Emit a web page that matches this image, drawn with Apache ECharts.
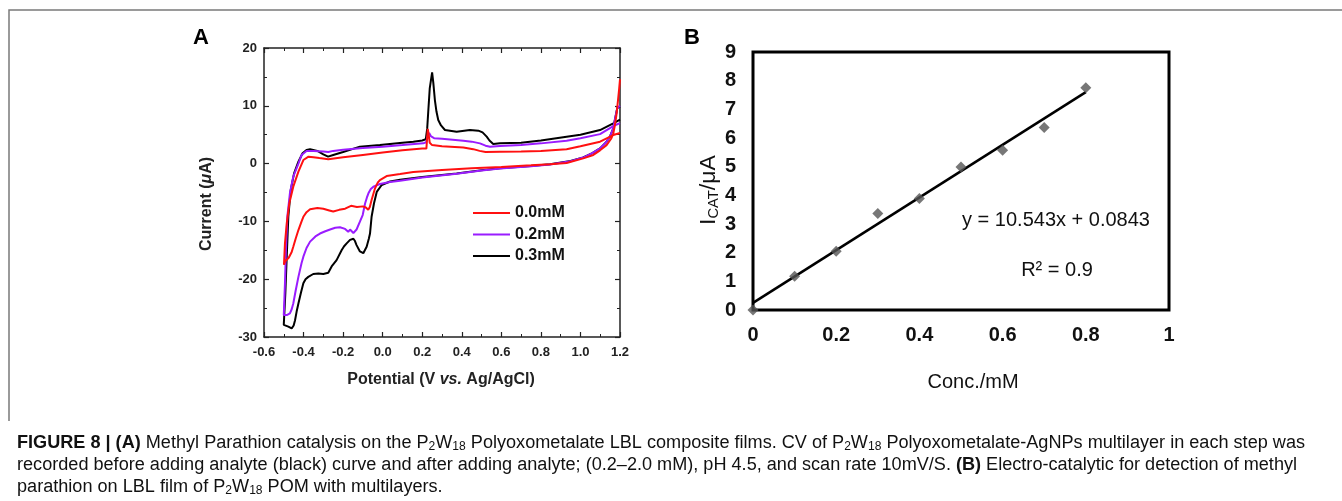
<!DOCTYPE html>
<html>
<head>
<meta charset="utf-8">
<script src="https://cdn.jsdelivr.net/npm/echarts@6/dist/echarts.min.js"></script>
<style>
  html, body { margin: 0; padding: 0; background: #fff; }
  #chart { width: 1342px; height: 501px; }
</style>
</head>
<body>
<div id="chart"></div>
<script>
// panel A: cyclic voltammograms, [potential V, current uA], traced along the loop
const scan00 = [
  [1.2, 5.3], [1.166, 4.94], [1.099, 3.79], [1.0, 3.0], [0.93, 2.5], [0.8, 2.2], [0.7, 2.1], [0.593, 2.06],
  [0.52, 2.0], [0.49, 2.2], [0.458, 2.5], [0.408, 2.8], [0.3, 3.0], [0.25, 3.2], [0.238, 3.6], [0.232, 5.2],
  [0.228, 6.0], [0.224, 4.0], [0.221, 2.6], [0.2, 2.6], [0.1, 2.3], [0.0, 1.9], [-0.1, 1.5], [-0.2, 1.1],
  [-0.275, 0.75], [-0.32, 0.95], [-0.35, 1.1], [-0.375, 1.2], [-0.384, 1.2], [-0.401, 0.62], [-0.426, -1.4],
  [-0.452, -3.99], [-0.472, -6.87], [-0.485, -10.33], [-0.494, -13.79], [-0.499, -17.5],
  [-0.493, -16.9], [-0.485, -16.6], [-0.475, -16.3], [-0.469, -16.0], [-0.46, -15.3], [-0.452, -14.4],
  [-0.44, -13.0], [-0.426, -11.5], [-0.41, -10.0], [-0.401, -9.2], [-0.385, -8.4], [-0.367, -7.9],
  [-0.33, -7.7], [-0.3, -7.8], [-0.27, -8.1], [-0.25, -8.3], [-0.22, -8.0], [-0.19, -7.8], [-0.16, -7.3],
  [-0.13, -7.5], [-0.1, -7.4], [-0.085, -7.6], [-0.073, -8.0], [-0.065, -7.5], [-0.056, -6.3],
  [-0.039, -4.3], [-0.025, -3.3], [-0.014, -2.84], [0.02, -2.15], [0.088, -1.8], [0.155, -1.45],
  [0.3, -1.1], [0.45, -0.8], [0.6, -0.6], [0.75, -0.3], [0.846, -0.1], [0.93, 0.1], [1.014, 0.9],
  [1.065, 1.5], [1.099, 2.3], [1.132, 3.2], [1.155, 4.3], [1.166, 5.2], [1.175, 6.8], [1.183, 8.7],
  [1.19, 11.0], [1.196, 13.0], [1.2, 14.6]
];
const scan02 = [
  [1.2, 7.0], [1.166, 6.5], [1.099, 5.1], [1.0, 4.4], [0.93, 3.96], [0.8, 3.5], [0.7, 3.2], [0.593, 3.04],
  [0.543, 2.9], [0.52, 3.1], [0.492, 3.5], [0.45, 3.8], [0.408, 3.96], [0.3, 4.3], [0.26, 4.4], [0.245, 4.7],
  [0.235, 5.3], [0.228, 4.8], [0.22, 3.7], [0.205, 3.5], [0.1, 3.2], [0.0, 2.93], [-0.1, 2.7], [-0.2, 2.4],
  [-0.25, 2.2], [-0.275, 2.0], [-0.3, 2.1], [-0.35, 2.2], [-0.385, 2.18], [-0.41, 1.49], [-0.426, 0.0],
  [-0.452, -2.26], [-0.469, -5.14], [-0.482, -9.18], [-0.489, -14.95], [-0.494, -20.7], [-0.5, -26.2],
  [-0.485, -26.2], [-0.469, -25.9], [-0.46, -25.2], [-0.452, -24.2], [-0.44, -22.0], [-0.426, -19.6],
  [-0.41, -17.2], [-0.401, -16.1], [-0.385, -14.6], [-0.367, -13.5], [-0.34, -12.6], [-0.317, -12.1],
  [-0.29, -11.7], [-0.266, -11.4], [-0.24, -11.1], [-0.216, -11.0], [-0.19, -11.3], [-0.174, -11.8],
  [-0.165, -11.4], [-0.157, -11.2], [-0.148, -12.0], [-0.14, -11.8], [-0.132, -11.4], [-0.115, -10.05],
  [-0.101, -8.9], [-0.089, -6.9], [-0.08, -5.9], [-0.072, -5.14], [-0.06, -4.4], [-0.047, -3.99],
  [-0.014, -3.53], [0.037, -3.18], [0.088, -2.95], [0.2, -2.4], [0.374, -1.75], [0.5, -1.2], [0.593, -0.85],
  [0.75, -0.45], [0.846, -0.15], [0.95, 0.4], [1.014, 1.05], [1.06, 1.8], [1.099, 2.64], [1.13, 3.7],
  [1.149, 4.66], [1.165, 6.0], [1.174, 7.54], [1.186, 9.6], [1.2, 10.0]
];
const scan03 = [
  [1.2, 7.6], [1.166, 6.96], [1.099, 5.8], [1.0, 5.0], [0.93, 4.66], [0.8, 4.0], [0.7, 3.6], [0.593, 3.5],
  [0.559, 3.39], [0.54, 4.0], [0.526, 4.66], [0.505, 5.4], [0.484, 5.7], [0.441, 5.81], [0.374, 5.52],
  [0.315, 5.81], [0.295, 6.6], [0.281, 7.54], [0.272, 9.0], [0.264, 11.0], [0.256, 14.0], [0.25, 15.8],
  [0.244, 15.6], [0.238, 13.0], [0.231, 9.27], [0.225, 6.0], [0.218, 4.2], [0.2, 4.0], [0.155, 3.79],
  [0.1, 3.6], [-0.014, 3.21], [-0.115, 2.93], [-0.2, 2.0], [-0.25, 1.5], [-0.276, 1.2], [-0.3, 1.6],
  [-0.33, 2.2], [-0.367, 2.47], [-0.385, 2.35], [-0.405, 1.78], [-0.426, 0.33], [-0.448, -1.7],
  [-0.465, -4.6], [-0.477, -9.2], [-0.485, -16.1], [-0.492, -22.4], [-0.5, -27.9],
  [-0.49, -28.0], [-0.477, -28.2], [-0.46, -28.5], [-0.45, -28.0], [-0.443, -27.1], [-0.435, -25.6],
  [-0.426, -24.2], [-0.413, -22.3], [-0.401, -20.7], [-0.39, -20.0], [-0.376, -19.6], [-0.351, -19.1],
  [-0.325, -19.0], [-0.3, -19.1], [-0.275, -18.9], [-0.258, -17.8], [-0.233, -16.7], [-0.207, -14.95],
  [-0.195, -14.3], [-0.182, -13.8], [-0.165, -13.2], [-0.148, -13.0], [-0.14, -13.4], [-0.132, -14.1],
  [-0.115, -15.2], [-0.098, -15.5], [-0.081, -14.4], [-0.07, -13.0], [-0.064, -12.1], [-0.056, -9.2],
  [-0.044, -6.9], [-0.03, -4.9], [-0.005, -3.7], [0.037, -3.1], [0.088, -2.8], [0.2, -2.3], [0.374, -1.7],
  [0.5, -1.15], [0.593, -0.82], [0.75, -0.4], [0.846, -0.13], [0.95, 0.45], [1.014, 1.08], [1.06, 1.8],
  [1.099, 2.64], [1.13, 3.7], [1.149, 4.66], [1.165, 6.0], [1.174, 7.54], [1.186, 9.6], [1.2, 9.9]
];
const scanNames = ['0.0mM', '0.2mM', '0.3mM'];

// panel B: calibration
const conc = [0, 0.1, 0.2, 0.3, 0.4, 0.5, 0.6, 0.7, 0.8];
const icat = [0, 1.18, 2.05, 3.37, 3.89, 4.99, 5.57, 6.37, 7.75];
const fitX = [0, 0.8];
const fitY = [0.25, 7.6];

const ff = 'Liberation Sans';

// caption is set in a condensed face: squeeze Liberation Sans so line 1 fills its width
const capSize = 18, subSize = 12;
const cap1 = [['b', 'FIGURE 8 | (A)'], ['n', ' Methyl Parathion catalysis on the P'], ['s', '2'], ['n', 'W'], ['s', '18'],
  ['n', ' Polyoxometalate LBL composite films. CV of P'], ['s', '2'], ['n', 'W'], ['s', '18'],
  ['n', ' Polyoxometalate-AgNPs multilayer in each step was']];
const cap2 = [['n', 'recorded before adding analyte (black) curve and after adding analyte; (0.2–2.0 mM), pH 4.5, and scan rate 10mV/S. '],
  ['b', '(B)'], ['n', ' Electro-catalytic for detection of methyl']];
const cap3 = [['n', 'parathion on LBL film of P'], ['s', '2'], ['n', 'W'], ['s', '18'], ['n', ' POM with multilayers.']];
const capFonts = {b: 'bold ' + capSize + 'px ' + ff, n: capSize + 'px ' + ff, s: subSize + 'px ' + ff};
const ctx = document.createElement('canvas').getContext('2d');
function segWidth(segs) {
  return segs.reduce((w, s) => { ctx.font = capFonts[s[0]]; return w + ctx.measureText(s[1]).width; }, 0);
}
const capScale = 1288 / segWidth(cap1);
function capText(segs, y) {
  return {
    type: 'text', x: 17, y: y, scaleX: capScale,
    style: {
      text: segs.map(s => '{' + s[0] + '|' + s[1] + '}').join(''),
      verticalAlign: 'middle',
      rich: {
        b: {font: capFonts.b, fill: '#111', lineHeight: 20, verticalAlign: 'middle'},
        n: {font: capFonts.n, fill: '#111', lineHeight: 20, verticalAlign: 'middle'},
        s: {font: capFonts.s, fill: '#111', lineHeight: 12, verticalAlign: 'bottom'}
      }
    }
  };
}

var myChart = echarts.init(document.getElementById('chart'));

function tickAxis(pos, showLabel, extra) {
  return Object.assign({
    position: pos,
    gridIndex: 0,
    axisLine: {show: true, onZero: false, lineStyle: {color: '#222', width: 1.5}},
    axisTick: {show: true, inside: true, length: 5, lineStyle: {color: '#222', width: 1.2}},
    minorTick: {show: true, splitNumber: 2, length: 3, lineStyle: {color: '#222', width: 1}},
    splitLine: {show: false},
    axisLabel: {show: showLabel}
  }, extra);
}

const xA = {type: 'value', min: -0.6, max: 1.2, interval: 0.2};
const yA = {type: 'value', min: -30, max: 20, interval: 10};
const labA = {show: true, fontFamily: ff, fontWeight: 'bold', fontSize: 13, color: '#222'};

myChart.setOption({
  animation: false,
  backgroundColor: '#fff',
  grid: [
    {left: 264, top: 48, width: 356, height: 289},
    {left: 753, top: 52, width: 416, height: 258, show: true, borderColor: '#000', borderWidth: 3}
  ],
  legend: {
    left: 468, top: 200, orient: 'vertical', icon: 'rect',
    itemWidth: 37, itemHeight: 2, itemGap: 5.5,
    data: scanNames,
    textStyle: {fontFamily: ff, fontWeight: 'bold', fontSize: 16, lineHeight: 16, color: '#111'}
  },
  xAxis: [
    tickAxis('bottom', true, Object.assign({}, xA, {axisLabel: Object.assign({margin: 9, formatter: v => v.toFixed(1)}, labA)})),
    tickAxis('top', false, xA),
    {
      type: 'value', gridIndex: 1, min: 0, max: 1, interval: 0.2,
      axisLine: {show: false}, axisTick: {show: false}, splitLine: {show: false},
      axisLabel: {margin: 15, fontFamily: ff, fontWeight: 'bold', fontSize: 20, color: '#111'}
    }
  ],
  yAxis: [
    tickAxis('left', true, Object.assign({}, yA, {axisLabel: Object.assign({margin: 7}, labA)})),
    tickAxis('right', false, yA),
    {
      type: 'value', gridIndex: 1, min: 0, max: 9, interval: 1,
      axisLine: {show: false}, axisTick: {show: false}, splitLine: {show: false},
      axisLabel: {margin: 17, fontFamily: ff, fontWeight: 'bold', fontSize: 20, color: '#111'}
    }
  ],
  series: [
    {name: scanNames[2], type: 'line', xAxisIndex: 0, yAxisIndex: 0, data: scan03, symbol: 'none', lineStyle: {color: '#000', width: 2}, itemStyle: {color: '#000'}},
    {name: scanNames[1], type: 'line', xAxisIndex: 0, yAxisIndex: 0, data: scan02, symbol: 'none', lineStyle: {color: '#9a1cff', width: 2}, itemStyle: {color: '#9a1cff'}},
    {name: scanNames[0], type: 'line', xAxisIndex: 0, yAxisIndex: 0, data: scan00, symbol: 'none', lineStyle: {color: '#ff1010', width: 2}, itemStyle: {color: '#ff1010'}},
    {
      type: 'line', xAxisIndex: 2, yAxisIndex: 2, symbol: 'none',
      data: fitX.map((x, i) => [x, fitY[i]]),
      lineStyle: {color: '#000', width: 2.5}
    },
    {
      type: 'scatter', xAxisIndex: 2, yAxisIndex: 2, symbol: 'diamond', symbolSize: 11,
      data: conc.map((c, i) => [c, icat[i]]),
      itemStyle: {color: '#555'}, z: 5
    }
  ],
  graphic: [
    {type: 'polyline', shape: {points: [[9, 421], [9, 10], [1342, 10]]}, style: {stroke: '#7a7a7a', lineWidth: 1.5, fill: null}},
    {type: 'text', x: 193, y: 27, style: {text: 'A', font: 'bold 22px Liberation Sans', fill: '#000'}},
    {type: 'text', x: 684, y: 27, style: {text: 'B', font: 'bold 22px Liberation Sans', fill: '#000'}},
    {
      type: 'text', x: 207, y: 204, rotation: Math.PI / 2,
      style: {
        text: '{n|Current (}{i|μ}{n|A)}', align: 'center', verticalAlign: 'middle',
        rich: {n: {font: 'bold 16px Liberation Sans', fill: '#222'}, i: {font: 'italic bold 16px Liberation Sans', fill: '#222'}}
      }
    },
    {
      type: 'text', x: 441, y: 380,
      style: {
        text: '{n|Potential (V }{i|vs.}{n| Ag/AgCl)}', align: 'center', verticalAlign: 'middle',
        rich: {n: {font: 'bold 16px Liberation Sans', fill: '#222'}, i: {font: 'italic bold 16px Liberation Sans', fill: '#222'}}
      }
    },
    {
      type: 'text', x: 709, y: 190, rotation: Math.PI / 2, scaleX: 1.05,
      style: {
        text: '{n|I}{s|CAT}{n|/μA}', align: 'center', verticalAlign: 'middle',
        rich: {
          n: {font: '22px Liberation Sans', fill: '#111', lineHeight: 24, verticalAlign: 'middle'},
          s: {font: '14px Liberation Sans', fill: '#111', lineHeight: 14, verticalAlign: 'bottom'}
        }
      }
    },
    {type: 'text', x: 973, y: 382, style: {text: 'Conc./mM', align: 'center', verticalAlign: 'middle', font: '20px Liberation Sans', fill: '#111'}},
    {type: 'text', x: 1056, y: 220, style: {text: 'y = 10.543x + 0.0843', align: 'center', verticalAlign: 'middle', font: '20px Liberation Sans', fill: '#111'}},
    {type: 'text', x: 1057, y: 270, style: {text: 'R² = 0.9', align: 'center', verticalAlign: 'middle', font: '20px Liberation Sans', fill: '#111'}},
    capText(cap1, 443),
    capText(cap2, 465),
    capText(cap3, 487)
  ]
});
</script>
</body>
</html>
